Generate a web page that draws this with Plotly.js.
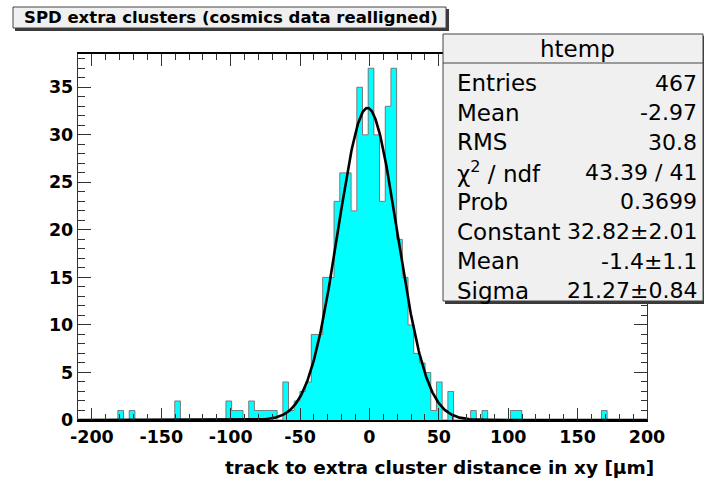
<!DOCTYPE html>
<html><head><meta charset="utf-8">
<script src="https://cdn.plot.ly/plotly-3.0.1.min.js"></script>
<style>html,body{margin:0;padding:0;background:#fff;} #chart{width:704px;height:478px;}</style>
</head><body><div id="chart"></div>
<script>
// ---- data ----
const binLow = -210;
const binWidth = 4.1;
const counts = [
  0,0,0,0,0,0,0,1,0,1,
  0,0,0,0,0,0,0,2,0,0,
  0,0,0,0,0,0,2,1,1,0,
  2,1,1,1,1,0,4,1,2,3,
  4,9,9,15,15,23,26,26,22,35,
  30,37,30,23,33,37,19,15,10,7,
  6,5,1,4,0,3,0,0,0,1,
  0,1,0,0,0,0,1,1,0,0,
  0,0,0,0,0,0,0,0,0,0,
  0,0,1,0,0,0,0,0,0,0
];
const xTickVals = [-200,-150,-100,-50,0,50,100,150,200];
const xTickText = ["-200","-150","-100","-50","0","50","100","150","200"];
const yTickVals = [0,5,10,15,20,25,30,35];
const yTickText = ["0","5","10","15","20","25","30","35"];
const fitConstant = 32.82, fitMean = -1.4, fitSigma = 21.27;
const titleText = "SPD extra clusters (cosmics data realligned)";
const xTitleText = "track to extra cluster distance in xy [μm]";
const statsName = "htemp";
const statLabels = ["Entries","Mean","RMS","χ<sup>2</sup> / ndf","Prob","Constant","Mean","Sigma"];
const statValues = ["467","-2.97","30.8","43.39 / 41","0.3699","32.82±2.01","-1.4±1.1","21.27±0.84"];

// ---- geometry (pixels) ----
const L = 78, R = 647, T = 54, B = 420, W = 704, H = 478;
const px = x => (x - L) / (R - L);
const py = y => (B - y) / (B - T);

const centers = counts.map((c, i) => binLow + binWidth * (i + 0.5));
const xMax = binLow + binWidth * counts.length;
const fx = [], fy = [];
for (let x = binLow; x <= xMax + 1e-9; x += 0.5) {
  fx.push(x);
  fy.push(fitConstant * Math.exp(-0.5 * Math.pow((x - fitMean) / fitSigma, 2)));
}

const FONT = "DejaVu Sans, Liberation Sans, Arial, sans-serif";

const traces = [
  {type:'bar', x:centers, y:counts, width:binWidth, marker:{color:'#00ffff', line:{width:0}}, hoverinfo:'skip'},
  {type:'scatter', mode:'lines', x:centers, y:counts, line:{shape:'hvh', color:'#7a7a7a', width:1}, hoverinfo:'skip'},
  {type:'scatter', mode:'lines', x:fx, y:fy, line:{color:'#000', width:2.6}, hoverinfo:'skip'}
];

const shapes = [];
function box(x0,y0,x1,y1,fill,lineColor,lw){
  shapes.push({type:'rect', xref:'paper', yref:'paper', x0:px(x0), x1:px(x1), y0:py(y1), y1:py(y0),
    fillcolor:fill, line:{color:lineColor, width:lw}, layer:'above'});
}
// title box
box(15,9,449,31,'#3a3a3a','#3a3a3a',0);
box(13,7,446,28,'#f0f0f0','#444',1);
// stats box
box(445,36,706,304,'#3a3a3a','#3a3a3a',0);
box(443,34,703,301,'#f0f0f0','#444',1);
shapes.push({type:'line', xref:'paper', yref:'paper', x0:px(443), x1:px(703), y0:py(63), y1:py(63), line:{color:'#444', width:1}, layer:'above'});

const annotations = [];
annotations.push({xref:'paper', yref:'paper', x:px(231), y:py(18), text:titleText, showarrow:false,
  xanchor:'center', yanchor:'middle', font:{family:FONT, size:16.5, color:'#000', weight:700}});
annotations.push({xref:'paper', yref:'paper', x:px(577), y:py(49), text:statsName, showarrow:false,
  xanchor:'center', yanchor:'middle', font:{family:FONT, size:23, color:'#000'}});
statLabels.forEach((lab, i) => {
  const yy = 83 + i * 29.7;
  annotations.push({xref:'paper', yref:'paper', x:px(455), y:py(yy), text:lab, showarrow:false,
    xanchor:'left', yanchor:'middle', font:{family:FONT, size:23, color:'#000'}});
  annotations.push({xref:'paper', yref:'paper', x:px(699), y:py(yy), text:statValues[i], showarrow:false,
    xanchor:'right', yanchor:'middle', font:{family:FONT, size:22, color:'#000'}});
});
annotations.push({xref:'paper', yref:'paper', x:px(656), y:py(467), text:xTitleText, showarrow:false,
  xanchor:'right', yanchor:'middle', font:{family:FONT, size:18.5, color:'#000', weight:700}});

const layout = {
  width:W, height:H, margin:{l:L, r:W-R, t:T, b:H-B, pad:0},
  paper_bgcolor:'#fff', plot_bgcolor:'#fff', showlegend:false, bargap:0,
  font:{family:FONT, color:'#000'},
  xaxis:{range:[binLow, 200], tickmode:'array', tickvals:xTickVals, ticktext:xTickText,
    ticks:'inside', ticklen:12, tickwidth:1, tickcolor:'#333',
    minor:{dtick:10, tick0:0, ticks:'inside', ticklen:6, tickwidth:1, tickcolor:'#333'},
    showline:true, linecolor:'#000', linewidth:1.8, mirror:'ticks', showgrid:false, zeroline:false,
    tickfont:{family:FONT, size:17.5, color:'#000', weight:700}},
  yaxis:{range:[0, 38.5], tickmode:'array', tickvals:yTickVals, ticktext:yTickText,
    ticks:'inside', ticklen:13, tickwidth:1, tickcolor:'#333',
    minor:{dtick:1, tick0:0, ticks:'inside', ticklen:6.5, tickwidth:1, tickcolor:'#333'},
    showline:true, linecolor:'#333', linewidth:1.2, mirror:'ticks', showgrid:false, zeroline:false,
    tickfont:{family:FONT, size:17.5, color:'#000', weight:700}},
  shapes:shapes, annotations:annotations
};
Plotly.newPlot('chart', traces, layout, {staticPlot:true, displayModeBar:false});
</script></body></html>
